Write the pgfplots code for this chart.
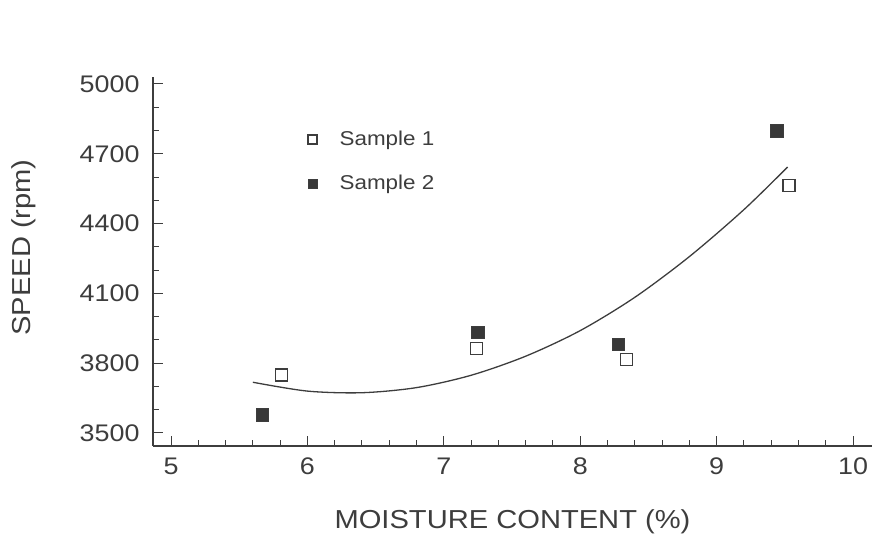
\documentclass[border=0pt]{standalone}
\usepackage{fontspec}
\setmainfont{Liberation Sans}[FakeStretch=1.12]
\usepackage{pgfplots}
\pgfplotsset{compat=1.18}
\definecolor{ink}{gray}{0.24}
\begin{document}
\begin{tikzpicture}
\useasboundingbox (0pt,0pt) rectangle (872pt,533pt);
\begin{axis}[
  at={(153pt,87pt)}, anchor=south west,
  scale only axis, width=719pt, height=369pt,
  xmin=4.868, xmax=10.139, ymin=3444, ymax=5030,
  axis lines=left,
  axis line style={-, line width=1.2pt, ink},
  tick align=inside,
  xtick={5,6,7,8,9,10}, minor x tick num=4,
  ytick={3500,3800,4100,4400,4700,5000}, minor y tick num=2,
  major tick length=10pt, minor tick length=6pt,
  tick style={ink, line width=1pt},
  /pgf/number format/assume math mode=true,
  /pgf/number format/1000 sep={},
  scaled y ticks=false,
  ticklabel style={font=\fontsize{24}{28}\selectfont, text=ink},
  yticklabel style={xshift=-10pt},
  xticklabel style={yshift=-8pt},
  xlabel={MOISTURE CONTENT (\%)},
  ylabel={SPEED (rpm)},
  label style={font=\fontsize{26}{30}\selectfont, text=ink},
  xlabel style={at={(axis description cs:0.5,0)}, anchor=center, yshift=-76pt},
  ylabel style={at={(axis description cs:0,0.5)}, anchor=center, yshift=129pt, xshift=14pt},
  legend style={draw=none, fill=none, at={(rel axis cs:0.2106,0.8666)}, anchor=north west,
    font=\fontsize{20}{24}\selectfont, text=ink, row sep=22pt,
    nodes={inner sep=3pt}},
  legend cell align=left,
  legend image code/.code={\path[draw=none, fill=none] (-5pt,0pt) -- (24pt,0pt); \draw[#1] plot coordinates {(0pt,0pt)};},
  legend image post style={mark size=4.5pt},
]
\addplot[only marks, mark=square, mark size=6pt, mark options={draw=ink, fill=white, line width=1.3pt}]
  coordinates {(5.81,3749) (7.24,3864) (8.34,3817) (9.53,4563)};
\addlegendentry{Sample 1}
\addplot[only marks, mark=square*, mark size=6.3pt, mark options={draw=ink, fill=black!78, line width=0.8pt}]
  coordinates {(5.67,3577) (7.25,3933) (8.28,3881) (9.44,4799)};
\addlegendentry{Sample 2}
\addplot[forget plot, smooth, line width=1.3pt, ink]
  coordinates {(5.60,3718) (6.00,3680) (6.40,3673) (6.80,3695) (7.20,3748) (7.60,3830) (8.00,3940) (8.40,4083) (8.80,4258) (9.20,4460) (9.52,4643)};
\end{axis}
\end{tikzpicture}
\end{document}
